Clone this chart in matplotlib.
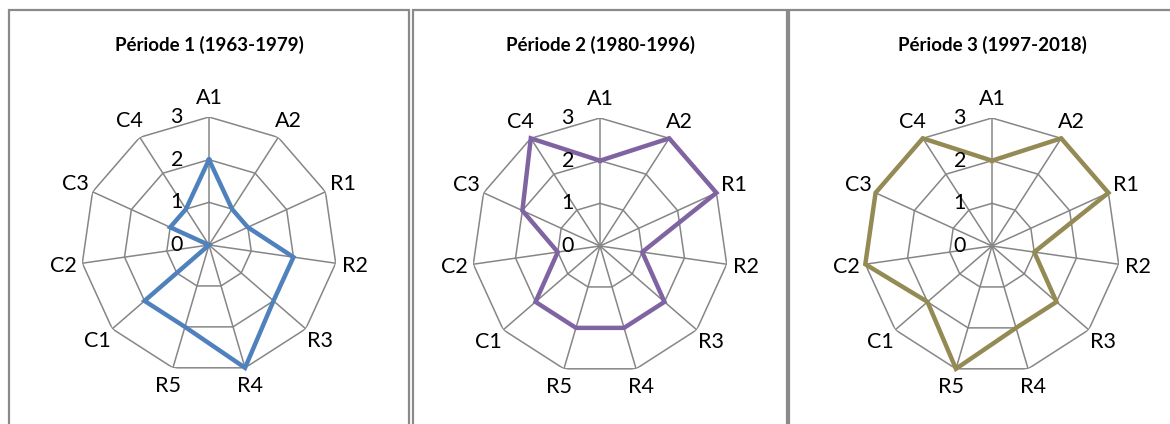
import numpy as np
import matplotlib
matplotlib.use('Agg')
import matplotlib.pyplot as plt
import matplotlib.transforms as mtransforms
from matplotlib.patches import Rectangle

plt.rcParams['font.family'] = ['Lato', 'DejaVu Sans']

categories = ['A1', 'A2', 'R1', 'R2', 'R3', 'R4', 'R5', 'C1', 'C2', 'C3', 'C4']
titles = ['Période 1 (1963-1979)', 'Période 2 (1980-1996)', 'Période 3 (1997-2018)']
periode_1 = [2, 1, 1, 2, 2, 3, 2, 2, 0, 1, 1]
periode_2 = [2, 3, 3, 1, 2, 2, 2, 2, 1, 2, 3]
periode_3 = [2, 3, 3, 1, 2, 2, 3, 2, 3, 3, 3]
series = [periode_1, periode_2, periode_3]
colors = ['#4f81bd', '#8064a2', '#948a54']
ticks = [0, 1, 2, 3]

W, H = 1170, 424
fig = plt.figure(figsize=(W / 100, H / 100), dpi=100)

# boxes (x0, x1) in pixels, top at y=10
boxes = [(9, 409), (413, 787), (789, 1200)]
centers = [(209, 245), (600, 246), (992, 246)]
R = 128  # pixels for value 3

angles = np.linspace(0, 2 * np.pi, len(categories), endpoint=False)
closed = np.append(angles, angles[0])

for i, (x0, x1) in enumerate(boxes):
    fig.patches.append(Rectangle((x0 / W, -0.1), (x1 - x0) / W, (H - 10) / H + 0.1,
                                 transform=fig.transFigure, fill=False,
                                 edgecolor='#8a8a8a', linewidth=1.6))
    cx, cy = centers[i]
    ax = fig.add_axes([(cx - R) / W, (H - cy - R) / H, 2 * R / W, 2 * R / H], projection='polar')
    ax.set_theta_offset(np.pi / 2)
    ax.set_theta_direction(-1)
    ax.set_ylim(0, 3)
    ax.grid(False)
    ax.spines['polar'].set_visible(False)
    ax.set_xticks([])
    ax.set_yticks([])
    ax.patch.set_alpha(0)

    for r in ticks[1:]:
        ax.plot(closed, [r] * len(closed), color='#868686', lw=1.1, zorder=1)
    for a in angles:
        ax.plot([a, a], [0, 3], color='#868686', lw=1.1, zorder=1)

    vals = series[i] + series[i][:1]
    ax.plot(closed, vals, color=colors[i], lw=3.2, zorder=3, solid_joinstyle='miter', clip_on=False)

    for a, lab in zip(angles, categories):
        ax.text(a, 3.45, lab, ha='center', va='center', fontsize=15.5, color='black', clip_on=False)

    off = mtransforms.offset_copy(ax.transData, fig=fig, x=-26, y=0, units='dots')
    for t in ticks:
        ax.text(0, t, str(t), transform=off, ha='right', va='center', fontsize=15.5, clip_on=False)

    fig.text(cx / W, 1 - 45 / H, titles[i], ha='center', va='center', fontsize=13.5,
             fontweight='bold', color='black')

fig.savefig('out.png', dpi=100)
